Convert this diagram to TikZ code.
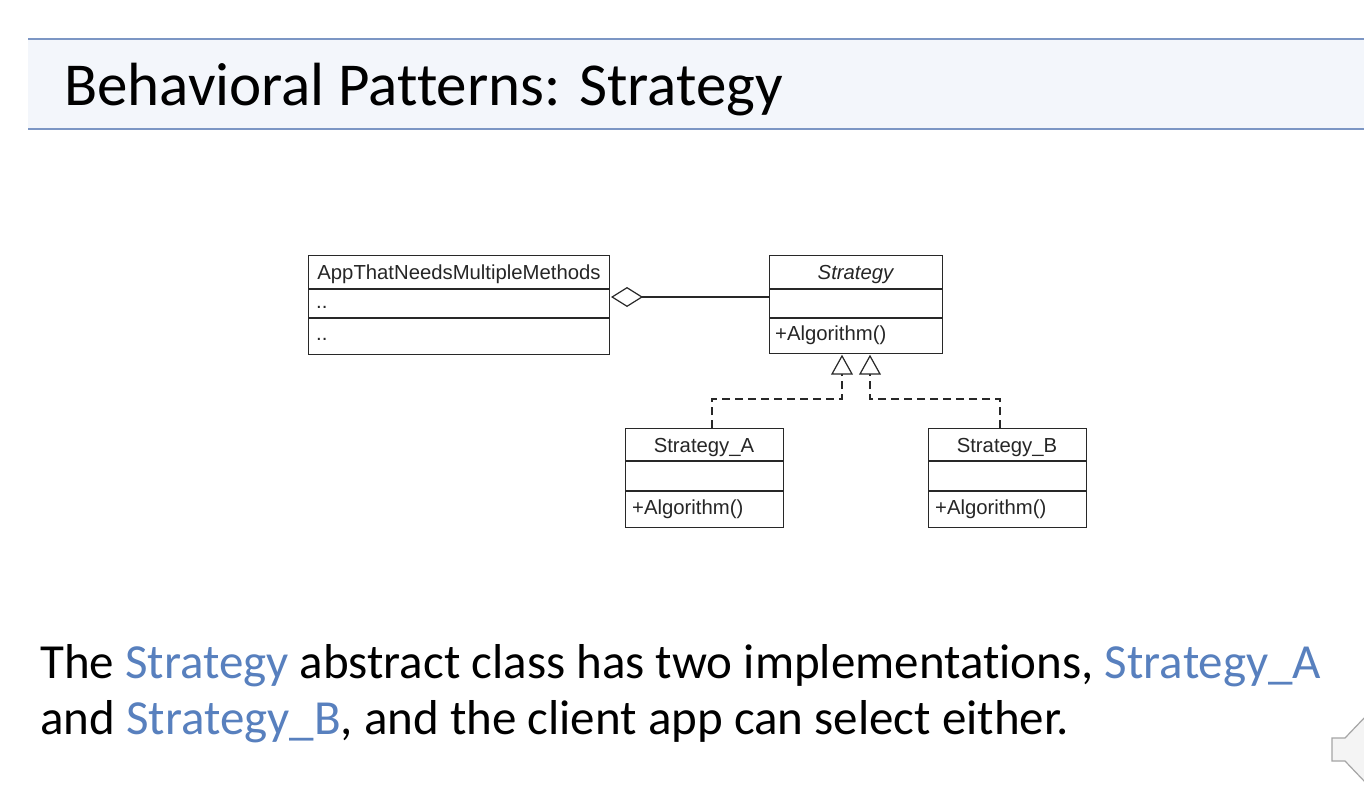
\documentclass[tikz,border=0pt]{standalone}
\usepackage{fontspec}
\setmainfont{Carlito}[Ligatures=NoCommon]
\newfontfamily\umlfont{Liberation Sans}
\usetikzlibrary{arrows.meta}
\definecolor{barfill}{RGB}{243,246,251}
\definecolor{barline}{RGB}{124,150,196}
\definecolor{accent}{RGB}{88,128,190}
\definecolor{umlline}{RGB}{40,40,40}
\definecolor{spkfill}{RGB}{244,244,244}
\definecolor{spkline}{RGB}{165,165,165}
\tikzset{
  umlbox/.style={draw=umlline, line width=1.2pt, anchor=north west, inner sep=0pt},
  umldiv/.style={draw=umlline, line width=1.2pt},
  umltxt/.style={font=\umlfont\fontsize{20.3}{23}\selectfont, inner sep=0pt, text=black!85},
  umlleft/.style={umltxt, anchor=base west},
  umlmid/.style={umltxt, anchor=base},
  realize/.style={draw=umlline, line width=1.2pt, dash pattern=on 8pt off 5pt},
  tri/.style={draw=umlline, line width=1.2pt, fill=white, line join=miter},
  aggr/.style={{Diamond[open, length=32pt, width=20pt, line width=1.2pt]}-},
  bodytxt/.style={font=\fontsize{49}{58}\selectfont, anchor=base west, inner sep=0pt},
}
\begin{document}
\begin{tikzpicture}[x=1pt, y=-1pt]
\useasboundingbox (0,0) rectangle (1364,790);
\fill[white] (0,0) rectangle (1364,790);
% title bar
\fill[barfill] (28,39) rectangle (1364,129);
\draw[barline, line width=1.2pt] (28,39) -- (1364,39);
\draw[barline, line width=2.4pt] (28,129) -- (1364,129);
\node[font=\fontsize{61}{66}\selectfont, anchor=base west, inner sep=0pt] (title) at (64,105) {Behavioral Patterns: Strategy};

% App box
\node[umlbox, minimum width=301pt, minimum height=99pt] (app) at (308,255) {};
\draw[umldiv] (308,289) -- (609,289);
\draw[umldiv] (308,318) -- (609,318);
\node[umlmid] (apptitle) at (459,279) {AppThatNeedsMultipleMethods};
\node[umlleft] (appattr) at (316,308) {..};
\node[umlleft] (appop) at (316,340) {..};

% Strategy box
\node[umlbox, minimum width=173pt, minimum height=98pt] (strat) at (769,255) {};
\draw[umldiv] (769,289) -- (942,289);
\draw[umldiv] (769,318) -- (942,318);
\node[umlmid, font=\umlfont\itshape\fontsize{20.3}{23}\selectfont] (strattitle) at (855.5,279) {Strategy};
\node[umlleft] (stratop) at (775,340) {+Algorithm()};

% Strategy_A box
\node[umlbox, minimum width=158pt, minimum height=99pt] (sa) at (625,428) {};
\draw[umldiv] (625,461) -- (783,461);
\draw[umldiv] (625,491) -- (783,491);
\node[umlmid] (satitle) at (704,452) {Strategy\_A};
\node[umlleft] (saop) at (632,514) {+Algorithm()};

% Strategy_B box
\node[umlbox, minimum width=158pt, minimum height=99pt] (sb) at (928,428) {};
\draw[umldiv] (928,461) -- (1086,461);
\draw[umldiv] (928,491) -- (1086,491);
\node[umlmid] (sbtitle) at (1007,452) {Strategy\_B};
\node[umlleft] (sbop) at (935,514) {+Algorithm()};

% aggregation
\coordinate (aggL) at (611,297);
\coordinate (aggR) at (769,297);
\draw[draw=umlline, line width=1.2pt, aggr] (aggL) -- (aggR);

% realizations
\coordinate (triA) at (842,356);
\coordinate (triB) at (870,356);
\coordinate (bendA1) at (842,399);
\coordinate (bendA2) at (712,399);
\coordinate (topA) at (712,428);
\coordinate (bendB1) at (870,399);
\coordinate (bendB2) at (1000,399);
\coordinate (topB) at (1000,428);
\draw[realize] (topA) -- (bendA2) -- (bendA1) -- (842,374);
\draw[realize] (topB) -- (bendB2) -- (bendB1) -- (870,374);
\draw[tri] (triA) -- ++(-10,18) -- ++(20,0) -- cycle;
\draw[tri] (triB) -- ++(-10,18) -- ++(20,0) -- cycle;

% body text
\node[bodytxt] (line1) at (40,678) {The \textcolor{accent}{Strategy} abstract class has two implementations, \textcolor{accent}{Strategy\_A}};
\node[bodytxt] (line2) at (40,734) {and \textcolor{accent}{Strategy\_B}, and the client app can select either.};

% speaker icon
\draw[fill=spkfill, draw=spkline, line width=1.2pt] (1366,716) -- (1345,738) -- (1332,738) -- (1332,761) -- (1345,761) -- (1366,783);
\end{tikzpicture}
\end{document}
